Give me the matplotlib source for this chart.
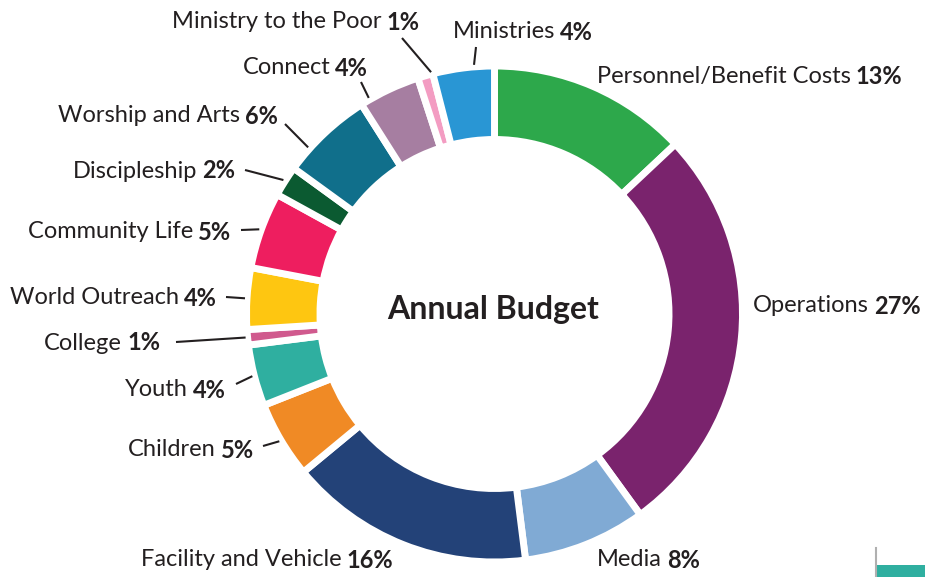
import numpy as np
import matplotlib
matplotlib.use("Agg")
import matplotlib.pyplot as plt
from matplotlib.font_manager import FontProperties
from matplotlib.patches import Rectangle

plt.rcParams["font.family"] = ["Lato", "DejaVu Sans"]

# budget shares (percent), clockwise from 12 o'clock
categories = ["Personnel/Benefit Costs", "Operations", "Media", "Facility and Vehicle",
              "Children", "Youth", "College", "World Outreach", "Community Life",
              "Discipleship", "Worship and Arts", "Connect", "Ministry to the Poor",
              "Ministries"]
values = [13, 27, 8, 16, 5, 4, 1, 4, 5, 2, 6, 4, 1, 4]
colors = ["#2DA84B", "#7A236D", "#80AAD4", "#234278", "#F08A25", "#2FAFA0",
          "#D05A8E", "#FEC611", "#EE1E5F", "#0B5A31", "#106F8B", "#A67EA1",
          "#F39CC2", "#2996D4"]

# label layout in pixels: (x, y, ha, leader start or None, leader angle shift)
layout = [
    (597, 74, "left", None, 0),
    (753, 304, "left", None, 0),
    (597, 558, "left", None, 0),
    (393, 558, "right", None, 0),
    (254, 448, "right", (263, 446), 0),
    (226, 388, "right", (236, 384), 0),
    (160, 341, "right", (176, 342), 0),
    (217, 296, "right", (226, 297), 0),
    (231, 230, "right", (241, 230), 0),
    (235, 169, "right", (245, 170), 0),
    (278, 114, "right", (285, 124), -5),
    (368, 66, "right", (361, 82), -5),
    (419, 20, "right", (402, 38), 1.5),
    (453, 30, "left", (476, 47), 2.5),
]

W, H = 925, 577
cx, cy = 494.5, 314
R = 248
ring = 73.5
gap = 5
txt_color = "#231F20"

fig = plt.figure(figsize=(W / 100, H / 100), dpi=100)
ax = fig.add_axes([0, 0, 1, 1])

wedges, _ = ax.pie(values, colors=colors, startangle=-90, counterclock=True,
                   center=(cx, cy), radius=R,
                   wedgeprops=dict(width=ring, edgecolor="white", linewidth=5.0))
ax.set_xlim(0, W)
ax.set_ylim(H, 0)
ax.set_aspect("auto")
ax.axis("off")

ax.text(cx - 1, 307, "Annual Budget", ha="center", va="center_baseline",
        fontsize=23, fontweight="bold", color=txt_color)

renderer = fig.canvas.get_renderer()
fp_reg = FontProperties(family=["Lato", "DejaVu Sans"], size=17)
fp_bold = FontProperties(family=["Lato", "DejaVu Sans"], size=17, weight="bold")

total = sum(values)
cum = np.cumsum([0] + values)
for i, name in enumerate(categories):
    x, y, ha, lead, shift = layout[i]
    pct = f"{values[i]}%"
    if ha == "left":
        t = ax.text(x, y, name, ha="left", va="center_baseline",
                    fontproperties=fp_reg, color=txt_color)
        bb = t.get_window_extent(renderer)
        ax.text(bb.x1 + gap, y, pct, ha="left",
                va="center_baseline", fontproperties=fp_bold, color=txt_color)
    else:
        t = ax.text(x, y, pct, ha="right", va="center_baseline",
                    fontproperties=fp_bold, color=txt_color)
        bb = t.get_window_extent(renderer)
        ax.text(bb.x0 - gap, y, name, ha="right",
                va="center_baseline", fontproperties=fp_reg, color=txt_color)
    if lead is not None:
        mid = (cum[i] + cum[i + 1]) / 2 / total * 360 - 90 + shift
        ex = cx + 250 * np.cos(np.radians(mid))
        ey = cy + 250 * np.sin(np.radians(mid))
        ax.plot([lead[0], ex], [lead[1], ey], color=txt_color, lw=1.5,
                solid_capstyle="butt")

# corner decoration
ax.plot([876, 876], [548, H], color="#B0B0B0", lw=1.5)
ax.add_patch(Rectangle((876, 565), W - 876, 12, color="#2FAFA0", lw=0))

fig.savefig("out.png", dpi=100)
